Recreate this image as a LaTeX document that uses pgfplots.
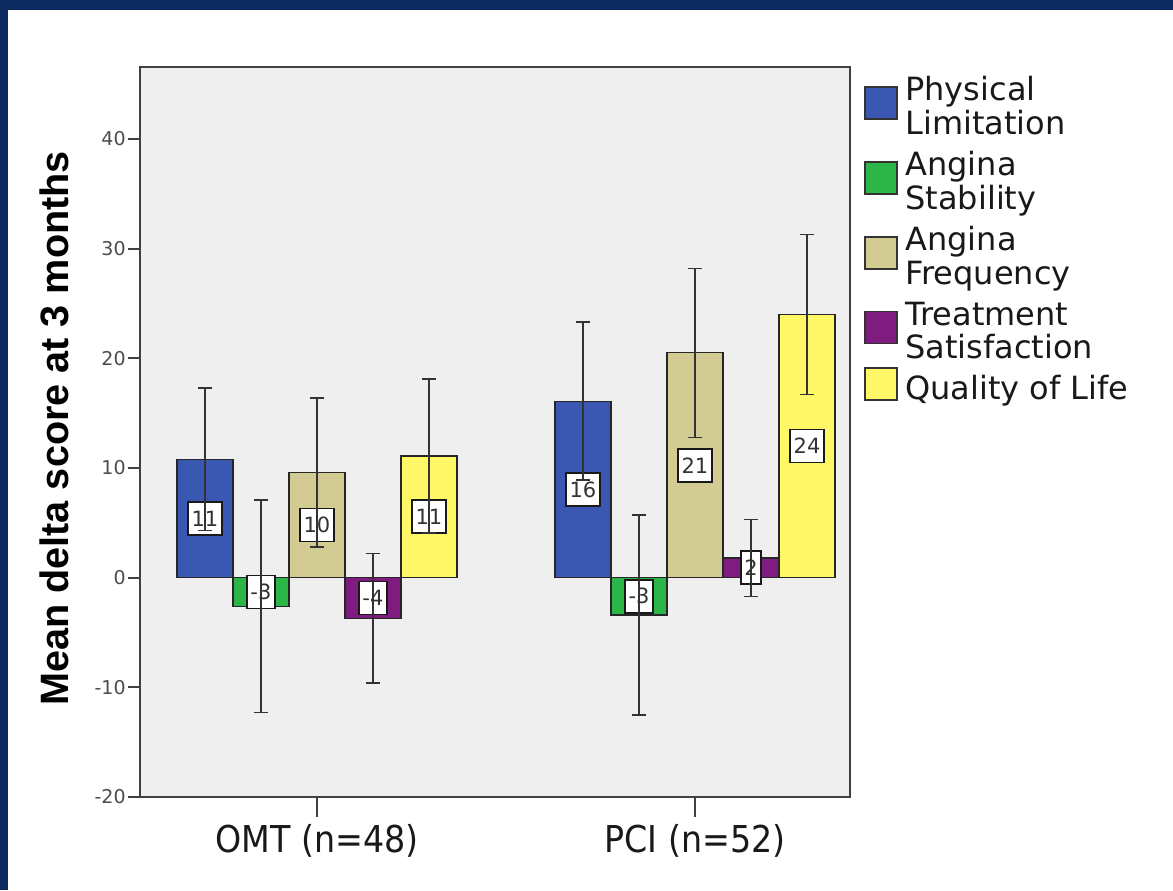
\documentclass[border=0pt]{standalone}
\usepackage{pgfplots}
\pgfplotsset{compat=1.18}
\usepackage{pgfplotstable}
\usepackage{fontspec}
\setmainfont{DejaVu Sans}
\newfontfamily\condfont{DejaVu Sans Condensed}
\newfontfamily\labfont{Liberation Sans}

\definecolor{navyc}{RGB}{14,43,97}
\definecolor{bgc}{RGB}{239,239,239}
\definecolor{cPL}{RGB}{58,88,178}
\definecolor{cAS}{RGB}{44,182,74}
\definecolor{cAF}{RGB}{210,204,146}
\definecolor{cTS}{RGB}{128,28,128}
\definecolor{cQL}{RGB}{255,248,102}

% one bar = 28pt = 0.148148 x units
\pgfplotstableread{
x PL PLe PLh PLl AS ASe ASh ASl AF AFe AFh AFl TS TSe TSh TSl QL QLe QLh QLl
0 10.8 6.5 5.4 11 -2.6 9.7 -1.3 -3 9.6 6.8 4.8 10 -3.7 5.9 -1.85 -4 11.1 7.0 5.55 11
1 16.1 7.2 8.05 16 -3.4 9.1 -1.7 -3 20.5 7.7 10.25 21 1.8 3.5 0.9 2 24.0 7.3 12.0 24
}\data

\pgfplotsset{
  geom/.style={at={(70pt,46.5pt)}, anchor=south west,
    scale only axis, width=355pt, height=365pt,
    xmin=-0.468, xmax=1.410, ymin=-20, ymax=46.57},
  barsty/.style={ybar, bar width=28pt, draw=black!85, line width=0.6pt},
  labsty/.style={draw=none, mark=none,
    point meta=explicit symbolic, nodes near coords,
    nodes near coords style={anchor=center, draw=black!90, line width=0.9pt, fill=white,
      inner xsep=1.8pt, inner ysep=0pt, minimum height=16.5pt,
      font=\fontsize{10.5}{12}\selectfont, text=black!80}},
  errsty/.style={draw=none, mark=none,
    error bars/y dir=both, error bars/y explicit,
    error bars/error bar style={draw=black!80, line width=0.8pt},
    error bars/error mark options={draw=black!80, line width=0.8pt, mark size=3.5pt, rotate=90}},
}

\begin{document}
\begin{tikzpicture}
\useasboundingbox (0,0) rectangle (586.5pt,445pt);
\fill[white] (0,0) rectangle (586.5pt,445pt);
\fill[navyc] (0,0) rectangle (4pt,445pt);
\fill[navyc] (0,440pt) rectangle (586.5pt,445pt);
\begin{axis}[
  geom,
  xtick={0,1}, xticklabels={{OMT (n=48)},{PCI (n=52)}},
  ytick={-20,-10,0,10,20,30,40},
  tick pos=left, tick align=outside, major tick length=6pt,
  xtick style={/pgfplots/major tick length=10pt},
  axis background/.style={fill=bgc},
  axis line style={draw=black!75, line width=0.9pt},
  every tick/.style={draw=black!75, line width=0.9pt},
  /pgf/number format/assume math mode=true,
  yticklabel style={font=\fontsize{9.5}{11}\selectfont, text=black!70, inner xsep=1pt},
  xticklabel style={font=\condfont\fontsize{18.5}{22}\selectfont, text=black!90, yshift=-4pt},
  ylabel={Mean delta score at 3 months},
  every axis y label/.style={at={(rel axis cs:0,0.505)}, anchor=center, xshift=-43pt, rotate=90,
    font=\labfont\bfseries\fontsize{19.8}{22}\selectfont, text=black},
]
% bars
\addplot[barsty, fill=cPL, bar shift=-56pt] table[x=x, y=PL] {\data};
\addplot[barsty, fill=cAS, bar shift=-28pt] table[x=x, y=AS] {\data};
\addplot[barsty, fill=cAF, bar shift=0pt]   table[x=x, y=AF] {\data};
\addplot[barsty, fill=cTS, bar shift=28pt]  table[x=x, y=TS] {\data};
\addplot[barsty, fill=cQL, bar shift=56pt]  table[x=x, y=QL] {\data};
% value labels at mid-height of each bar
\addplot[labsty] table[x expr=\thisrow{x}-0.296296, y=PLh, meta=PLl] {\data};
\addplot[labsty] table[x expr=\thisrow{x}-0.148148, y=ASh, meta=ASl] {\data};
\addplot[labsty] table[x expr=\thisrow{x},          y=AFh, meta=AFl] {\data};
\addplot[labsty] table[x expr=\thisrow{x}+0.148148, y=TSh, meta=TSl] {\data};
\addplot[labsty] table[x expr=\thisrow{x}+0.296296, y=QLh, meta=QLl] {\data};
\end{axis}
% error bars on top, in an overlay axis with identical geometry
\begin{axis}[geom, hide axis]
\addplot[errsty] table[x expr=\thisrow{x}-0.296296, y=PL, y error=PLe] {\data};
\addplot[errsty] table[x expr=\thisrow{x}-0.148148, y=AS, y error=ASe] {\data};
\addplot[errsty] table[x expr=\thisrow{x},          y=AF, y error=AFe] {\data};
\addplot[errsty] table[x expr=\thisrow{x}+0.148148, y=TS, y error=TSe] {\data};
\addplot[errsty] table[x expr=\thisrow{x}+0.296296, y=QL, y error=QLe] {\data};
\end{axis}
% legend (pixel frame: origin top-left, 1px = 0.5pt)
\begin{scope}[x=0.5pt, y=-0.5pt, shift={(0pt,445pt)}]
  \tikzset{legtxt/.style={anchor=base west, inner sep=0pt, font=\fontsize{16}{18}\selectfont, text=black!90}}
  \filldraw[fill=cPL, draw=black!80, line width=0.6pt] (865,87) rectangle (897,119);
  \node[legtxt] at (905,101) {Physical};
  \node[legtxt] at (905,134.5) {Limitation};
  \filldraw[fill=cAS, draw=black!80, line width=0.6pt] (865,162) rectangle (897,194);
  \node[legtxt] at (905,176) {Angina};
  \node[legtxt] at (905,209.5) {Stability};
  \filldraw[fill=cAF, draw=black!80, line width=0.6pt] (865,237) rectangle (897,269);
  \node[legtxt] at (905,251) {Angina};
  \node[legtxt] at (905,284.5) {Frequency};
  \filldraw[fill=cTS, draw=black!80, line width=0.6pt] (865,311.5) rectangle (897,343.5);
  \node[legtxt] at (905,325.5) {Treatment};
  \node[legtxt] at (905,359) {Satisfaction};
  \filldraw[fill=cQL, draw=black!80, line width=0.6pt] (865,368) rectangle (897,400);
  \node[legtxt] at (905,400) {Quality of Life};
\end{scope}
\end{tikzpicture}
\end{document}
